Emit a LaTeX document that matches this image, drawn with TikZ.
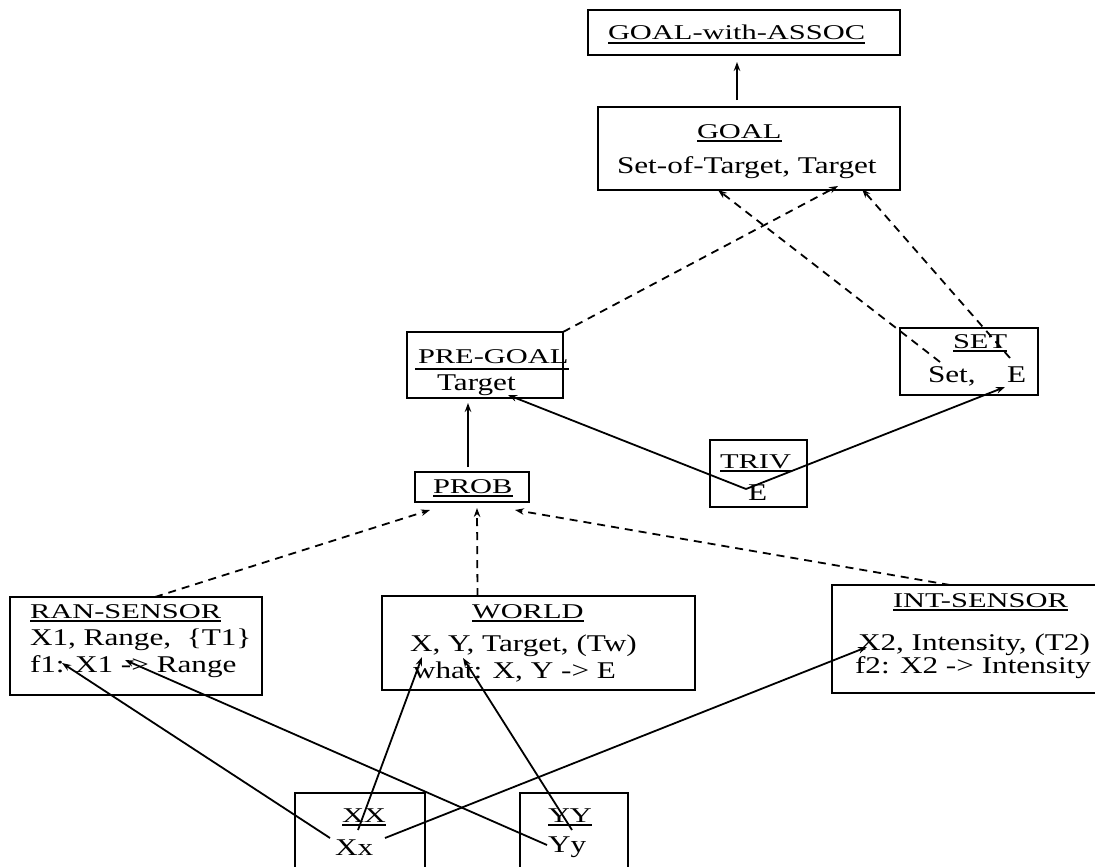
\documentclass[tikz,border=0pt]{standalone}
\usepackage{fontspec}
\setmainfont{Liberation Serif}
\usepackage{graphicx}
\usetikzlibrary{arrows.meta}
\newcommand\ttl[1]{\scalebox{1.45}[1]{\fontsize{21}{21}\selectfont #1}}
\newcommand\fld[1]{\scalebox{1.3}[1]{\fontsize{24}{24}\selectfont #1}}
\begin{document}
\begin{tikzpicture}[x=1pt,y=-1pt,
  bx/.style={draw, line width=2pt, inner sep=0pt, outer sep=0pt},
  tx/.style={inner sep=0pt, outer sep=0pt, anchor=base west},
  ul/.style={line width=1.4pt},
  arr/.style={line width=1.8pt, -{Stealth[length=9pt,width=6.5pt]}},
  darr/.style={arr, dash pattern=on 8pt off 6pt}]
\clip (0,0) rectangle (1095,867);
\fill[white] (0,0) rectangle (1095,867);
% boxes
\node[bx, minimum width=312pt, minimum height=45pt] (gwa) at (744,32.5) {};
\node[bx, minimum width=302pt, minimum height=83pt] (goal) at (749,148.5) {};
\node[bx, minimum width=156pt, minimum height=66pt] (pregoal) at (485,365) {};
\node[bx, minimum width=114pt, minimum height=30pt] (prob) at (472,487) {};
\node[bx, minimum width=138pt, minimum height=67pt] (set) at (969,361.5) {};
\node[bx, minimum width=97pt, minimum height=67pt] (triv) at (758.5,473.5) {};
\node[bx, minimum width=252pt, minimum height=98pt] (ran) at (136,646) {};
\node[bx, minimum width=313pt, minimum height=94pt] (world) at (538.5,643) {};
\node[bx, minimum width=268pt, minimum height=108pt] (int) at (966,639) {};
\node[bx, minimum width=130pt, minimum height=82pt] (xx) at (360,834) {};
\node[bx, minimum width=108pt, minimum height=82pt] (yy) at (574,834) {};
% texts
\node[tx] (gwat) at (608,40) {\ttl{GOAL-with-ASSOC}};
\node[tx] (goalt) at (697,138) {\ttl{GOAL}};
\node[tx] (goalf) at (617,173) {\fld{Set-of-Target, Target}};
\node[tx] (pgt) at (418,363) {\ttl{PRE-GOAL}};
\node[tx] (pgf) at (437,390) {\fld{Target}};
\node[tx] (probt) at (433,493) {\ttl{PROB}};
\node[tx] (sett) at (953,348) {\ttl{SET}};
\node[tx] (sets) at (928,382) {\fld{Set,}};
\node[tx] (sete) at (1007,382) {\fld{E}};
\node[tx] (trivt) at (720,468) {\ttl{TRIV}};
\node[tx] (trive) at (748,500) {\fld{E}};
\node[tx] (rant) at (30,618) {\ttl{RAN-SENSOR}};
\node[tx] (ranf) at (30,645) {\fld{X1, Range, \ \{T1\}}};
\node[tx] (rang) at (30,672) {\fld{f1: X1 -> Range}};
\node[tx] (worldt) at (472,618) {\ttl{WORLD}};
\node[tx] (worldf) at (410,651) {\fld{X, Y, Target, (Tw)}};
\node[tx] (worldg) at (413,678) {\fld{what: X, Y -> E}};
\node[tx] (intt) at (893,607) {\ttl{INT-SENSOR}};
\node[tx] (intf) at (858,650) {\fld{X2, Intensity, (T2)}};
\node[tx] (intg) at (855,673) {\fld{f2: X2 -> Intensity}};
\node[tx] (xxt) at (342,822) {\ttl{XX}};
\node[tx] (xxf) at (335,855) {\fld{Xx}};
\node[tx] (yyt) at (548,822) {\ttl{YY}};
\node[tx] (yyf) at (548,852) {\fld{Yy}};
% underlines
\foreach \n in {gwat,goalt,probt,sett,trivt,rant,worldt,intt,xxt,yyt}
  \draw[ul] ([yshift=-3pt]\n.base west) -- ([yshift=-3pt]\n.base east);
\draw[ul] ([shift={(-3,6)}]pgt.base west) -- ([shift={(0,6)}]pgt.base east);
% connectors
\draw[arr] ([shift={(-12,-7)}]goal.north) -- ([shift={(-7,7)}]gwa.south);
\draw[arr] ([shift={(-4,-5)}]prob.north) -- ([shift={(-17,5)}]pregoal.south);
\draw[darr] (pregoal.north east) -- ([shift={(221,13)}]goalf.base west);
\draw[darr] ([shift={(12,-20)}]sets.base west) -- ([shift={(101,17)}]goalf.base west);
\draw[darr] ([shift={(3,-24)}]sete.base west) -- ([shift={(245,16)}]goalf.base west);
\draw[arr] ([shift={(-2,-11)}]trive.base west) -- ([shift={(71,5)}]pgf.base west);
\draw[arr] ([shift={(-2,-11)}]trive.base west) -- ([shift={(-2,5)}]sete.base west);
\draw[darr] ([xshift=19pt]ran.north) -- ([shift={(15,8)}]prob.south west);
\draw[darr] ([xshift=-61pt]world.north) -- ([shift={(5,6)}]prob.south);
\draw[darr] ([xshift=-16pt]int.north) -- ([shift={(-14,8)}]prob.south east);
\draw[arr] ([shift={(-5,-17)}]xxf.base west) -- ([shift={(32,18)}]ranf.base west);
\draw[arr] ([shift={(-1,-7)}]yyf.base west) -- ([shift={(95,15)}]ranf.base west);
\draw[arr] ([shift={(16,8)}]xxt.base west) -- ([shift={(12,6)}]worldf.base west);
\draw[arr] ([shift={(24,8)}]yyt.base west) -- ([shift={(53,7)}]worldf.base west);
\draw[arr] ([shift={(50,-17)}]xxf.base west) -- ([shift={(9,-3)}]intf.base west);
\end{tikzpicture}
\end{document}
